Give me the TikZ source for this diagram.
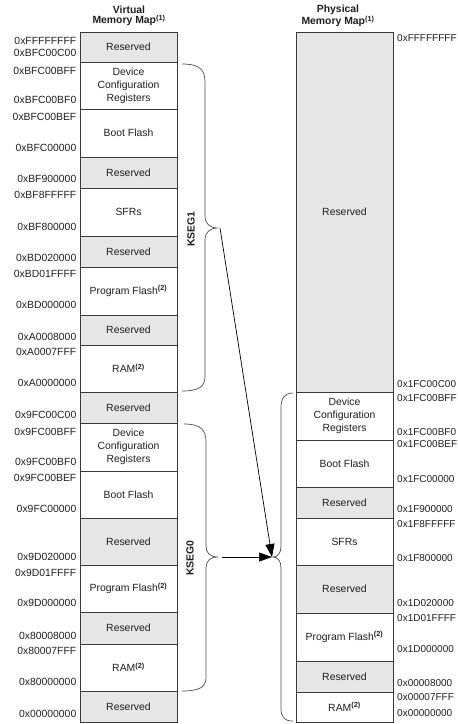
\documentclass[tikz,border=0pt]{standalone}
\usepackage{fontspec}
\setmainfont{Liberation Sans}
\usetikzlibrary{arrows.meta}
\definecolor{resgray}{HTML}{E6E6E6}
\definecolor{linegray}{HTML}{3A3A3A}
\definecolor{txt}{HTML}{1E1E1E}
\newcommand{\supp}[1]{\textsuperscript{\bfseries #1}}
\begin{document}
\begin{tikzpicture}[x=1pt,y=-1pt,
  box/.style={draw=linegray, line width=0.7pt, minimum width=97pt, anchor=north west, inner sep=0pt, outer sep=0pt, align=center, font=\fontsize{10.4}{13}\selectfont, text=txt},
  resbox/.style={box, fill=resgray},
  usebox/.style={box, fill=white},
  addrl/.style={font=\fontsize{10.4}{12}\selectfont, inner sep=0pt, text=txt, anchor=east},
  addrr/.style={font=\fontsize{10}{12}\selectfont, inner sep=0pt, text=txt, anchor=west},
  ttl/.style={font=\fontsize{10.4}{10}\selectfont\bfseries, align=center, inner sep=0pt, text=txt},
  seg/.style={font=\fontsize{10.4}{12}\selectfont\bfseries, rotate=90, inner sep=0pt, text=txt},
  brace/.style={draw=black!70, line width=0.7pt},
  arr/.style={draw=black, line width=0.7pt, -{Triangle[length=13pt,width=9pt]}}
]
\useasboundingbox (0,0) rectangle (458,724);

% titles
\node[ttl] (tv) at (129,16) {Virtual\\Memory Map\supp{(1)}};
\node[ttl] (tp) at (338,16) {Physical\\Memory Map\supp{(1)}};

% left (virtual) column
\node[resbox, minimum height=30pt] (v1) at (80,32) {Reserved};
\node[usebox, minimum height=47pt] (v2) at (80,62) {Device\\Configuration\\Registers};
\node[usebox, minimum height=48pt] (v3) at (80,109) {Boot Flash};
\node[resbox, minimum height=31pt] (v4) at (80,157) {Reserved};
\node[usebox, minimum height=48pt] (v5) at (80,188) {SFRs};
\node[resbox, minimum height=31pt] (v6) at (80,236) {Reserved};
\node[usebox, minimum height=48pt] (v7) at (80,267) {Program Flash\supp{(2)}};
\node[resbox, minimum height=30pt] (v8) at (80,315) {Reserved};
\node[usebox, minimum height=47pt] (v9) at (80,345) {RAM\supp{(2)}};
\node[resbox, minimum height=31pt] (v10) at (80,392) {Reserved};
\node[usebox, minimum height=48pt] (v11) at (80,423) {Device\\Configuration\\Registers};
\node[usebox, minimum height=47pt] (v12) at (80,471) {Boot Flash};
\node[resbox, minimum height=47pt] (v13) at (80,518) {Reserved};
\node[usebox, minimum height=47pt] (v14) at (80,565) {Program Flash\supp{(2)}};
\node[resbox, minimum height=32pt] (v15) at (80,612) {Reserved};
\node[usebox, minimum height=47pt] (v16) at (80,644) {RAM\supp{(2)}};
\node[resbox, minimum height=31pt] (v17) at (80,691) {Reserved};

% right (physical) column
\node[resbox, minimum height=360pt] (p1) at (296,32) {Reserved};
\node[usebox, minimum height=48pt] (p2) at (296,392) {Device\\Configuration\\Registers};
\node[usebox, minimum height=47pt] (p3) at (296,440) {Boot Flash};
\node[resbox, minimum height=31pt] (p4) at (296,487) {Reserved};
\node[usebox, minimum height=47pt] (p5) at (296,518) {SFRs};
\node[resbox, minimum height=48pt] (p6) at (296,565) {Reserved};
\node[usebox, minimum height=48pt] (p7) at (296,613) {Program Flash\supp{(2)}};
\node[resbox, minimum height=31pt] (p8) at (296,661) {Reserved};
\node[usebox, minimum height=30pt] (p9) at (296,692) {RAM\supp{(2)}};

% left addresses
\node[addrl] at ([xshift=-3.5pt,yshift=-9pt]v1.north west) {0xFFFFFFFF};
\node[addrl] at ([xshift=-3.5pt,yshift=9pt]v1.south west) {0xBFC00C00};
\node[addrl] at ([xshift=-3.5pt,yshift=-9pt]v2.north west) {0xBFC00BFF};
\node[addrl] at ([xshift=-3.5pt,yshift=9pt]v2.south west) {0xBFC00BF0};
\node[addrl] at ([xshift=-3.5pt,yshift=-8pt]v3.north west) {0xBFC00BEF};
\node[addrl] at ([xshift=-3.5pt,yshift=9pt]v3.south west) {0xBFC00000};
\node[addrl] at ([xshift=-3.5pt,yshift=9pt]v4.south west) {0xBF900000};
\node[addrl] at ([xshift=-3.5pt,yshift=-7pt]v5.north west) {0xBF8FFFFF};
\node[addrl] at ([xshift=-3.5pt,yshift=9pt]v5.south west) {0xBF800000};
\node[addrl] at ([xshift=-3.5pt,yshift=9pt]v6.south west) {0xBD020000};
\node[addrl] at ([xshift=-3.5pt,yshift=-7pt]v7.north west) {0xBD01FFFF};
\node[addrl] at ([xshift=-3.5pt,yshift=10pt]v7.south west) {0xBD000000};
\node[addrl] at ([xshift=-3.5pt,yshift=8pt]v8.south west) {0xA0008000};
\node[addrl] at ([xshift=-3.5pt,yshift=-7pt]v9.north west) {0xA0007FFF};
\node[addrl] at ([xshift=-3.5pt,yshift=9pt]v9.south west) {0xA0000000};
\node[addrl] at ([xshift=-3.5pt,yshift=8pt]v10.south west) {0x9FC00C00};
\node[addrl] at ([xshift=-3.5pt,yshift=-9pt]v11.north west) {0x9FC00BFF};
\node[addrl] at ([xshift=-3.5pt,yshift=9pt]v11.south west) {0x9FC00BF0};
\node[addrl] at ([xshift=-3.5pt,yshift=-7pt]v12.north west) {0x9FC00BEF};
\node[addrl] at ([xshift=-3.5pt,yshift=9pt]v12.south west) {0x9FC00000};
\node[addrl] at ([xshift=-3.5pt,yshift=8pt]v13.south west) {0x9D020000};
\node[addrl] at ([xshift=-3.5pt,yshift=-8pt]v14.north west) {0x9D01FFFF};
\node[addrl] at ([xshift=-3.5pt,yshift=9pt]v14.south west) {0x9D000000};
\node[addrl] at ([xshift=-3.5pt,yshift=8pt]v15.south west) {0x80008000};
\node[addrl] at ([xshift=-3.5pt,yshift=-7pt]v16.north west) {0x80007FFF};
\node[addrl] at ([xshift=-3.5pt,yshift=9pt]v16.south west) {0x80000000};
\node[addrl] at ([xshift=-3.5pt,yshift=8pt]v17.south west) {0x00000000};

% right addresses
\node[addrr] at ([xshift=4pt,yshift=-6pt]p1.north east) {0xFFFFFFFF};
\node[addrr] at ([xshift=4pt,yshift=8pt]p1.south east) {0x1FC00C00};
\node[addrr] at ([xshift=4pt,yshift=-6pt]p2.north east) {0x1FC00BFF};
\node[addrr] at ([xshift=4pt,yshift=8pt]p2.south east) {0x1FC00BF0};
\node[addrr] at ([xshift=4pt,yshift=-4pt]p3.north east) {0x1FC00BEF};
\node[addrr] at ([xshift=4pt,yshift=8pt]p3.south east) {0x1FC00000};
\node[addrr] at ([xshift=4pt,yshift=9pt]p4.south east) {0x1F900000};
\node[addrr] at ([xshift=4pt,yshift=-6pt]p5.north east) {0x1F8FFFFF};
\node[addrr] at ([xshift=4pt,yshift=7pt]p5.south east) {0x1F800000};
\node[addrr] at ([xshift=4pt,yshift=10pt]p6.south east) {0x1D020000};
\node[addrr] at ([xshift=4pt,yshift=-5pt]p7.north east) {0x1D01FFFF};
\node[addrr] at ([xshift=4pt,yshift=12pt]p7.south east) {0x1D000000};
\node[addrr] at ([xshift=4pt,yshift=9pt]p8.south east) {0x00008000};
\node[addrr] at ([xshift=4pt,yshift=-5pt]p9.north east) {0x00007FFF};
\node[addrr] at ([xshift=4pt,yshift=9pt]p9.south east) {0x00000000};

% segment labels
\node[seg] (k1) at (191,229) {KSEG1};
\node[seg] (k0) at (190,558) {KSEG0};

% braces
\coordinate (k1tip) at (218,228);
\coordinate (k0tip) at (218,557);
\coordinate (ptip) at (273,557);
\draw[brace] (182,64) .. controls (200,64) and (205,70) .. (205,82) -- (205,216)
  .. controls (205,224) and (210,228) .. (k1tip)
  .. controls (210,228) and (205,232) .. (205,240) -- (205,376)
  .. controls (205,386) and (200,391) .. (182,391);
\draw[brace] (184,424) .. controls (201,424) and (206,430) .. (206,442) -- (206,546)
  .. controls (206,553) and (210,557) .. (k0tip)
  .. controls (210,557) and (206,561) .. (206,568) -- (206,677)
  .. controls (206,687) and (200,691) .. (182,691);
\draw[brace] (293,393) .. controls (284,393) and (281,399) .. (281,408) -- (281,546)
  .. controls (281,553) and (278,557) .. (ptip)
  .. controls (278,557) and (281,561) .. (281,568) -- (281,708)
  .. controls (281,717) and (284,721) .. (293,721);

% arrows
\draw[arr] ([xshift=2pt]k1tip) -- ([xshift=-1pt]ptip);
\draw[arr] ([xshift=4pt]k0tip) -- ([xshift=-1pt]ptip);
\end{tikzpicture}
\end{document}
